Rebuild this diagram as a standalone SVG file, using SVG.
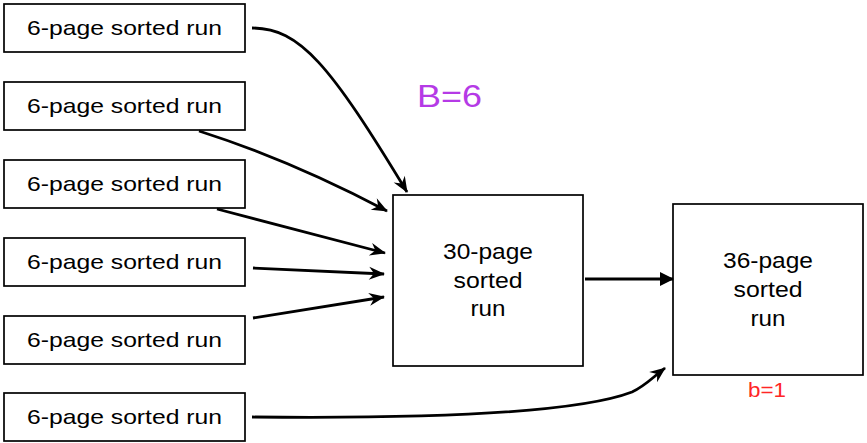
<svg xmlns="http://www.w3.org/2000/svg" width="867" height="443" viewBox="0 0 867 443">
<style>
.box{fill:#fff;stroke:#000;stroke-width:1.7}
.lbl{font-family:"Liberation Sans",Arial,sans-serif;font-size:21px;fill:#000;text-anchor:middle}
.big{font-family:"Liberation Sans",Arial,sans-serif;font-size:22px;fill:#000;text-anchor:middle}
.con{fill:none;stroke:#000;stroke-width:2.8}
</style>
<defs>
<marker id="stealth" markerUnits="userSpaceOnUse" markerWidth="18" markerHeight="14" refX="15" refY="6.5" orient="auto" overflow="visible">
<path d="M0,0 L16,6.5 L0,13 L5,6.5 z" fill="#000"/>
</marker>
<marker id="tri" markerUnits="userSpaceOnUse" markerWidth="14" markerHeight="14" refX="13" refY="7" orient="auto" overflow="visible">
<path d="M0,0 L14,7 L0,14 z" fill="#000"/>
</marker>
</defs>
<rect width="867" height="443" fill="#fff"/>
<g id="run1"><rect class="box" x="4" y="4" width="241" height="48"/><text class="lbl" x="124.5" y="35" textLength="195" lengthAdjust="spacingAndGlyphs">6-page sorted run</text></g>
<g id="run2"><rect class="box" x="4" y="82" width="241" height="48"/><text class="lbl" x="124.5" y="113" textLength="195" lengthAdjust="spacingAndGlyphs">6-page sorted run</text></g>
<g id="run3"><rect class="box" x="4" y="160" width="241" height="48"/><text class="lbl" x="124.5" y="191" textLength="195" lengthAdjust="spacingAndGlyphs">6-page sorted run</text></g>
<g id="run4"><rect class="box" x="4" y="238" width="241" height="48"/><text class="lbl" x="124.5" y="269" textLength="195" lengthAdjust="spacingAndGlyphs">6-page sorted run</text></g>
<g id="run5"><rect class="box" x="4" y="316" width="241" height="48"/><text class="lbl" x="124.5" y="347" textLength="195" lengthAdjust="spacingAndGlyphs">6-page sorted run</text></g>
<g id="run6"><rect class="box" x="4" y="393" width="241" height="48"/><text class="lbl" x="124.5" y="424" textLength="195" lengthAdjust="spacingAndGlyphs">6-page sorted run</text></g>
<g id="run30"><rect class="box" x="393" y="195" width="190" height="171"/>
<text class="big" x="488" y="259" textLength="90" lengthAdjust="spacingAndGlyphs">30-page</text>
<text class="big" x="488" y="288" textLength="69" lengthAdjust="spacingAndGlyphs">sorted</text>
<text class="big" x="488" y="316" textLength="35" lengthAdjust="spacingAndGlyphs">run</text></g>
<g id="run36"><rect class="box" x="673" y="204" width="190" height="171"/>
<text class="big" x="768" y="268" textLength="90" lengthAdjust="spacingAndGlyphs">36-page</text>
<text class="big" x="768" y="297" textLength="69" lengthAdjust="spacingAndGlyphs">sorted</text>
<text class="big" x="768" y="326" textLength="35" lengthAdjust="spacingAndGlyphs">run</text></g>
<g id="labelB"><text x="417" y="107" font-family="Liberation Sans,Arial,sans-serif" font-size="32" fill="#B53AE6" textLength="65" lengthAdjust="spacingAndGlyphs">B=6</text></g>
<g id="labelb"><text x="767" y="397" font-family="Liberation Sans,Arial,sans-serif" font-size="20" fill="#FF2626" text-anchor="middle" textLength="38" lengthAdjust="spacingAndGlyphs">b=1</text></g>
<g id="connectors">
<path class="con" d="M252,28 C300,28 330,65 407,192" marker-end="url(#stealth)"/>
<path class="con" d="M199,131 Q290,160 387,211" marker-end="url(#stealth)"/>
<path class="con" d="M217,209 L385,253" marker-end="url(#stealth)"/>
<path class="con" d="M253,268 L384,274" marker-end="url(#stealth)"/>
<path class="con" d="M253,318 L384,297" marker-end="url(#stealth)"/>
<path class="con" d="M252,417 C450,419 580,412 632,392 C645,386 652,378 665,368" marker-end="url(#stealth)"/>
<path class="con" d="M585,279 L673,279" marker-end="url(#tri)"/>
</g>
</svg>
